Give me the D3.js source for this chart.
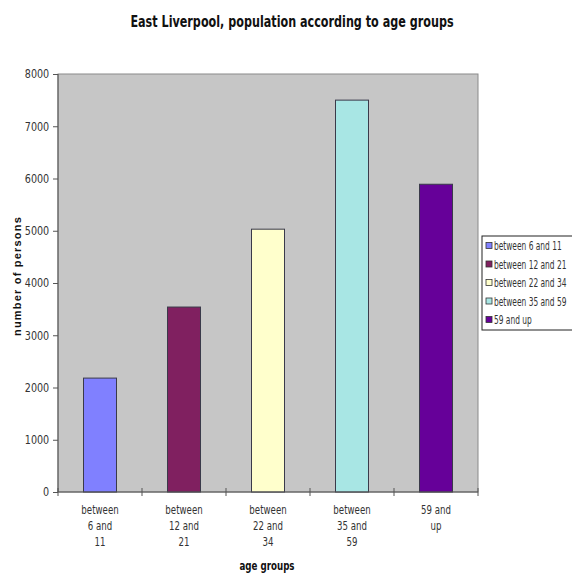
<!DOCTYPE html>
<html>
<head>
<meta charset="utf-8">
<script src="https://cdn.jsdelivr.net/npm/d3@7"></script>
<style>
  body { margin: 0; background: #fff; }
  svg { display: block; }
</style>
</head>
<body>
<div id="chart"></div>
<script>
// Data
var groups = ['between 6 and 11', 'between 12 and 21', 'between 22 and 34', 'between 35 and 59', '59 and up'];
var tickLines = [['between', '6 and', '11'], ['between', '12 and', '21'], ['between', '22 and', '34'], ['between', '35 and', '59'], ['59 and', 'up']];
var persons = [2180, 3540, 5030, 7500, 5890];
var colors = ['#8080ff', '#802060', '#ffffcc', '#a8e6e4', '#660099'];
var yTicks = [0, 1000, 2000, 3000, 4000, 5000, 6000, 7000, 8000];

var width = 572, height = 574;
var font = '"DejaVu Sans", sans-serif';

var svg = d3.select('#chart').append('svg')
    .attr('width', width)
    .attr('height', height);

var plotLeft = 58, plotRight = 478, plotTop = 74, plotBottom = 492;

var xBand = d3.scaleBand().domain(groups).range([plotLeft, plotRight]);

var y = d3.scaleLinear()
    .domain([0, 8000])
    .range([plotBottom, plotTop]);

// squeezed text, since no narrow font is installed
function narrowText(parent, x, yPos, sx) {
    return parent.append('g')
        .attr('transform', 'translate(' + x + ',' + yPos + ') scale(' + sx + ',1)')
        .append('text')
        .attr('font-family', font);
}

// plot area
svg.append('rect')
    .attr('x', plotLeft)
    .attr('y', plotTop)
    .attr('width', plotRight - plotLeft)
    .attr('height', plotBottom - plotTop)
    .attr('fill', '#c6c6c6')
    .attr('stroke', '#8a8a8a')
    .attr('stroke-width', 1);

// bars
svg.selectAll('rect.bar')
    .data(groups)
    .enter()
    .append('rect')
    .attr('class', 'bar')
    .attr('x', d => xBand(d) + xBand.bandwidth() / 2 - 16.5)
    .attr('y', (d, i) => y(persons[i]))
    .attr('width', 33)
    .attr('height', (d, i) => plotBottom - y(persons[i]))
    .attr('fill', (d, i) => colors[i])
    .attr('stroke', '#3a3a4a')
    .attr('stroke-width', 1);

// y axis
var yAxis = svg.append('g')
    .attr('transform', 'translate(' + plotLeft + ',0)')
    .call(d3.axisLeft(y).tickValues(yTicks).tickSize(5).tickPadding(4).tickFormat(d3.format('d')));
yAxis.select('.domain').attr('stroke', '#555').attr('d', 'M0,' + plotTop + 'V' + plotBottom);
yAxis.selectAll('.tick line').attr('stroke', '#555');
yAxis.selectAll('.tick text')
    .attr('x', -11)
    .attr('transform', 'scale(0.8,1)')
    .attr('font-family', font)
    .attr('font-size', 12)
    .attr('fill', '#333');

// x axis
var xAxis = svg.append('g')
    .attr('transform', 'translate(0,' + plotBottom + ')')
    .call(d3.axisBottom(xBand).tickSize(0).tickFormat(''));
xAxis.select('.domain').attr('stroke', '#555').attr('d', 'M' + plotLeft + ',0H' + plotRight);
xAxis.selectAll('.tick').remove();

// cross tick marks between categories
var edges = groups.map(d => xBand(d)).concat([plotRight]);
svg.selectAll('line.xtick')
    .data(edges)
    .enter()
    .append('line')
    .attr('x1', d => d)
    .attr('x2', d => d)
    .attr('y1', plotBottom - 4)
    .attr('y2', plotBottom + 4)
    .attr('stroke', '#555');

// category labels
groups.forEach(function(g, i) {
    var t = narrowText(svg, xBand(g) + xBand.bandwidth() / 2, 514, 0.72)
        .attr('text-anchor', 'middle')
        .attr('font-size', 12)
        .attr('fill', '#333');
    t.selectAll('tspan')
        .data(tickLines[i])
        .enter()
        .append('tspan')
        .attr('x', 0)
        .attr('dy', (d, j) => j === 0 ? 0 : 16)
        .text(d => d);
});

// title
narrowText(svg, 292, 27, 0.7)
    .attr('text-anchor', 'middle')
    .attr('font-weight', 'bold')
    .attr('font-size', 16)
    .attr('fill', '#111')
    .text('East Liverpool, population according to age groups');

// axis titles
narrowText(svg, 267, 570, 0.67)
    .attr('text-anchor', 'middle')
    .attr('font-weight', 'bold')
    .attr('font-size', 13)
    .attr('fill', '#111')
    .text('age groups');

svg.append('text')
    .attr('transform', 'translate(21,276) rotate(-90)')
    .attr('text-anchor', 'middle')
    .attr('font-family', '"Liberation Sans", Arial, sans-serif')
    .attr('font-weight', 'bold')
    .attr('font-size', 11)
    .attr('letter-spacing', 1.2)
    .attr('fill', '#111')
    .text('number of persons');

// legend
var legend = svg.append('g').attr('transform', 'translate(482,236)');
legend.append('rect')
    .attr('width', 120)
    .attr('height', 94)
    .attr('fill', '#fff')
    .attr('stroke', '#222');
groups.forEach(function(g, i) {
    var row = 9.5 + i * 18.5;
    legend.append('rect')
        .attr('x', 4)
        .attr('y', row - 3)
        .attr('width', 6)
        .attr('height', 6)
        .attr('fill', colors[i])
        .attr('stroke', '#333')
        .attr('stroke-width', 0.8);
    narrowText(legend, 12, row + 4.5, 0.65)
        .attr('font-size', 11.5)
        .attr('fill', '#333')
        .text(g);
});
</script>
</body>
</html>
